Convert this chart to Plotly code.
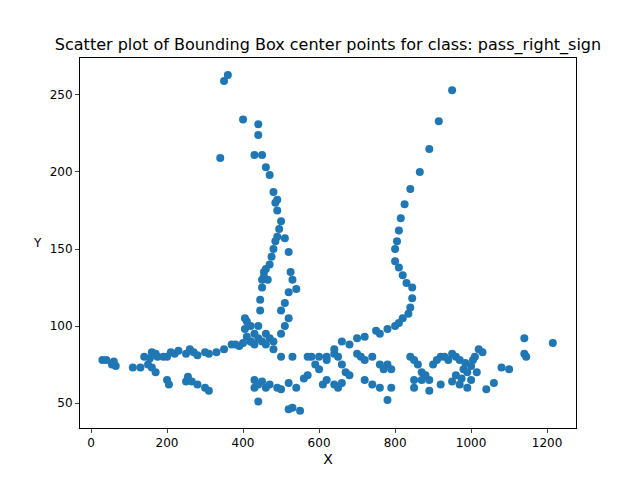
import plotly.graph_objects as go

pts = [
(405,105),(410,103),(420,100),(430,95),(440,100),(445,110),(445,117),(450,125),(450,130),(455,135),(460,137),(470,140),(475,145),(480,150),(485,155),(490,158),(495,163),(500,168),(490,175),(485,180),(480,187),(490,182),(470,198),(460,203),(450,211),(430,211),(440,224),(440,231),(400,234),(350,259),(360,263),(340,209),
(500,110),(510,115),(520,122),(530,130),(540,124),(525,135),(520,148),(510,157),
(460,95),(470,92),(480,90),(500,95),(510,100),(520,105),(405,98),(410,93),(420,90),(440,92),(455,132),(465,130),
(800,100),(820,105),(840,112),(845,118),(845,125),(830,128),(820,133),(810,138),(800,142),(800,150),(805,155),(810,162),(815,170),(825,179),(840,189),(865,200),(890,215),(915,233),(950,253),
(780,98),(750,97),(720,93),(700,92),(680,88),(660,90),(640,85),(620,80),(810,102),(835,108),(760,95),
(30,78),(40,78),(55,75),(65,74),(60,77),(110,73),(130,73),(140,80),(150,75),(155,79),(160,83),(170,82),(175,80),(190,80),(200,80),(210,83),(220,82),(230,84),(250,82),(260,85),(270,83),(280,81),(300,83),(310,82),(330,83),(350,85),(370,88),(380,88),(390,87),(400,89),(420,90),(430,88),(450,90),(460,88),
(160,73),(170,70),(200,65),(205,62),(250,64),(255,67),(265,64),(280,62),(300,60),(310,58),
(430,60),(430,65),(440,62),(450,64),(460,60),(470,62),(440,51),(490,60),(500,59),(520,63),(520,46),(530,47),(550,45),(540,60),(560,66),(570,68),(580,80),(590,75),(600,72),(610,62),(620,65),(620,78),(640,82),(650,80),(660,75),(670,70),(680,68),(700,82),(710,80),(720,78),(740,80),(760,75),(770,72),(780,75),(790,72),(720,65),(740,62),(760,60),(780,52),(790,60),(640,62),(650,60),(660,63),(600,80),(570,80),(530,80),(500,80),(480,85),
(840,80),(850,78),(860,75),(870,70),(880,68),(890,65),(900,75),(910,78),(920,80),(930,80),(940,78),(950,82),(960,80),(970,78),(980,72),(990,70),(1000,74),(1010,80),(1020,85),(1030,83),(1000,65),(990,60),(970,62),(950,64),(960,68),(1040,59),(1060,63),(1080,73),(1100,72),(1140,92),(1140,82),(1145,80),(1215,89),(850,60),(870,65),(890,58),(920,62),(850,65),(975,66),(985,76),(1005,78),(1015,70)
]
x_vals = [p[0] for p in pts]
y_vals = [p[1] for p in pts]

fig = go.Figure(go.Scatter(x=x_vals, y=y_vals, mode="markers",
    marker=dict(color="#1f77b4", size=8, line=dict(width=0))))
ax = dict(showline=True, linecolor="black", mirror=True, ticks="outside", ticklen=4,
          showgrid=False, zeroline=False, automargin=False,
          tickfont=dict(size=12, color="black"))
fig.update_layout(
    width=640, height=480, plot_bgcolor="white", paper_bgcolor="white",
    font=dict(family="DejaVu Sans", size=12, color="black"),
    margin=dict(l=72, r=72, t=50, b=60),
    title=dict(text="Scatter plot of Bounding Box center points for class: pass_right_sign",
               x=0.5, xanchor="center", y=0.925, yanchor="middle", font=dict(size=16)),
    xaxis=dict(ax, range=[-29, 1276], tickvals=[0,200,400,600,800,1000,1200],
               title=dict(text="X", standoff=4)),
    yaxis=dict(ax, range=[33.8, 274], tickvals=[50,100,150,200,250]),
    annotations=[dict(text="Y", xref="paper", yref="paper", x=-0.085, y=0.5,
                      showarrow=False, xanchor="center", yanchor="middle",
                      font=dict(size=12))],
    showlegend=False)
fig.write_html("out.html")
